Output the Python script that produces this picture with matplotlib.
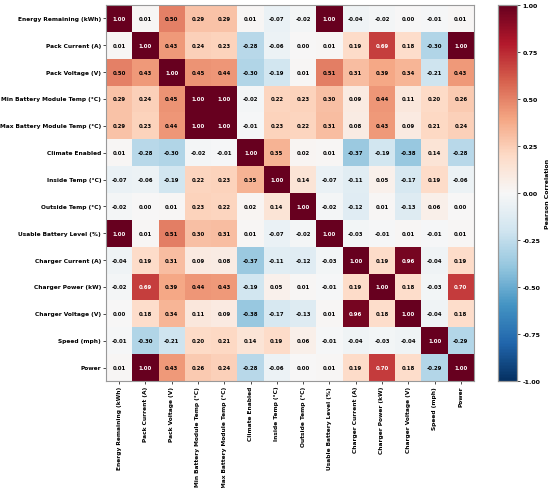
import numpy as np
import pandas as pd
import matplotlib
matplotlib.use("Agg")
import matplotlib.pyplot as plt
import seaborn as sns

labels = [
    "Energy Remaining (kWh)", "Pack Current (A)", "Pack Voltage (V)",
    "Min Battery Module Temp (°C)", "Max Battery Module Temp (°C)",
    "Climate Enabled", "Inside Temp (°C)", "Outside Temp (°C)",
    "Usable Battery Level (%)", "Charger Current (A)", "Charger Power (kW)",
    "Charger Voltage (V)", "Speed (mph)", "Power",
]

r_energy = [1.00, 0.01, 0.50, 0.29, 0.29, 0.01, -0.07, -0.02, 1.00, -0.04, -0.02, 0.00, -0.01, 0.01]
r_pack_cur = [0.01, 1.00, 0.43, 0.24, 0.23, -0.28, -0.06, 0.00, 0.01, 0.19, 0.69, 0.18, -0.30, 1.00]
r_pack_volt = [0.50, 0.43, 1.00, 0.45, 0.44, -0.30, -0.19, 0.01, 0.51, 0.31, 0.39, 0.34, -0.21, 0.43]
r_min_temp = [0.29, 0.24, 0.45, 1.00, 1.00, -0.02, 0.22, 0.23, 0.30, 0.09, 0.44, 0.11, 0.20, 0.26]
r_max_temp = [0.29, 0.23, 0.44, 1.00, 1.00, -0.01, 0.23, 0.22, 0.31, 0.08, 0.43, 0.09, 0.21, 0.24]
r_climate = [0.01, -0.28, -0.30, -0.02, -0.01, 1.00, 0.35, 0.02, 0.01, -0.37, -0.19, -0.38, 0.14, -0.28]
r_inside = [-0.07, -0.06, -0.19, 0.22, 0.23, 0.35, 1.00, 0.14, -0.07, -0.11, 0.05, -0.17, 0.19, -0.06]
r_outside = [-0.02, 0.00, 0.01, 0.23, 0.22, 0.02, 0.14, 1.00, -0.02, -0.12, 0.01, -0.13, 0.06, 0.00]
r_usable = [1.00, 0.01, 0.51, 0.30, 0.31, 0.01, -0.07, -0.02, 1.00, -0.03, -0.01, 0.01, -0.01, 0.01]
r_chg_cur = [-0.04, 0.19, 0.31, 0.09, 0.08, -0.37, -0.11, -0.12, -0.03, 1.00, 0.19, 0.96, -0.04, 0.19]
r_chg_pow = [-0.02, 0.69, 0.39, 0.44, 0.43, -0.19, 0.05, 0.01, -0.01, 0.19, 1.00, 0.18, -0.03, 0.70]
r_chg_volt = [0.00, 0.18, 0.34, 0.11, 0.09, -0.38, -0.17, -0.13, 0.01, 0.96, 0.18, 1.00, -0.04, 0.18]
r_speed = [-0.01, -0.30, -0.21, 0.20, 0.21, 0.14, 0.19, 0.06, -0.01, -0.04, -0.03, -0.04, 1.00, -0.29]
r_power = [0.01, 1.00, 0.43, 0.26, 0.24, -0.28, -0.06, 0.00, 0.01, 0.19, 0.70, 0.18, -0.29, 1.00]

corr = pd.DataFrame(
    [r_energy, r_pack_cur, r_pack_volt, r_min_temp, r_max_temp, r_climate, r_inside,
     r_outside, r_usable, r_chg_cur, r_chg_pow, r_chg_volt, r_speed, r_power],
    index=labels, columns=labels)

fig = plt.figure(figsize=(5.5, 4.89), dpi=100)
ax = fig.add_axes([106 / 550, 1 - 382 / 489, 368 / 550, 376 / 489])
cax = fig.add_axes([498 / 550, 1 - 382 / 489, 19 / 550, 376 / 489])

sns.heatmap(corr, ax=ax, cbar_ax=cax, cmap="RdBu_r", vmin=-1, vmax=1,
            annot=False,
            cbar_kws={"ticks": [-1, -0.75, -0.5, -0.25, 0, 0.25, 0.5, 0.75, 1],
                      "format": "%.2f"})

# cell values, white only on the darkest cells
vals = corr.values
for i in range(vals.shape[0]):
    for j in range(vals.shape[1]):
        v = vals[i, j]
        c = "white" if abs(v) >= 0.6 else "black"
        ax.text(j + 0.5, i + 0.5, f"{v:.2f}", ha="center", va="center",
                fontsize=3.9, fontweight="bold", color=c)

ax.set_xticks(np.arange(len(labels)) + 0.5)
ax.set_yticks(np.arange(len(labels)) + 0.5)
ax.set_xticklabels(labels, rotation=90, fontsize=4.2, fontweight="bold")
ax.set_yticklabels(labels, rotation=0, fontsize=4.2, fontweight="bold")
ax.tick_params(length=2, width=0.5, pad=1.5)
for s in ax.spines.values():
    s.set_visible(True)
    s.set_color("#999999")
    s.set_linewidth(0.8)

cax.tick_params(labelsize=4.5, length=2, width=0.5, pad=2)
for t in cax.get_yticklabels():
    t.set_fontweight("bold")
cax.set_ylabel("Pearson Correlation", fontsize=4.5, fontweight="bold", labelpad=3)
cax.yaxis.set_label_position("right")
for s in cax.spines.values():
    s.set_visible(True)
    s.set_color("#999999")
    s.set_linewidth(0.8)

fig.savefig("out.png", dpi=100)
